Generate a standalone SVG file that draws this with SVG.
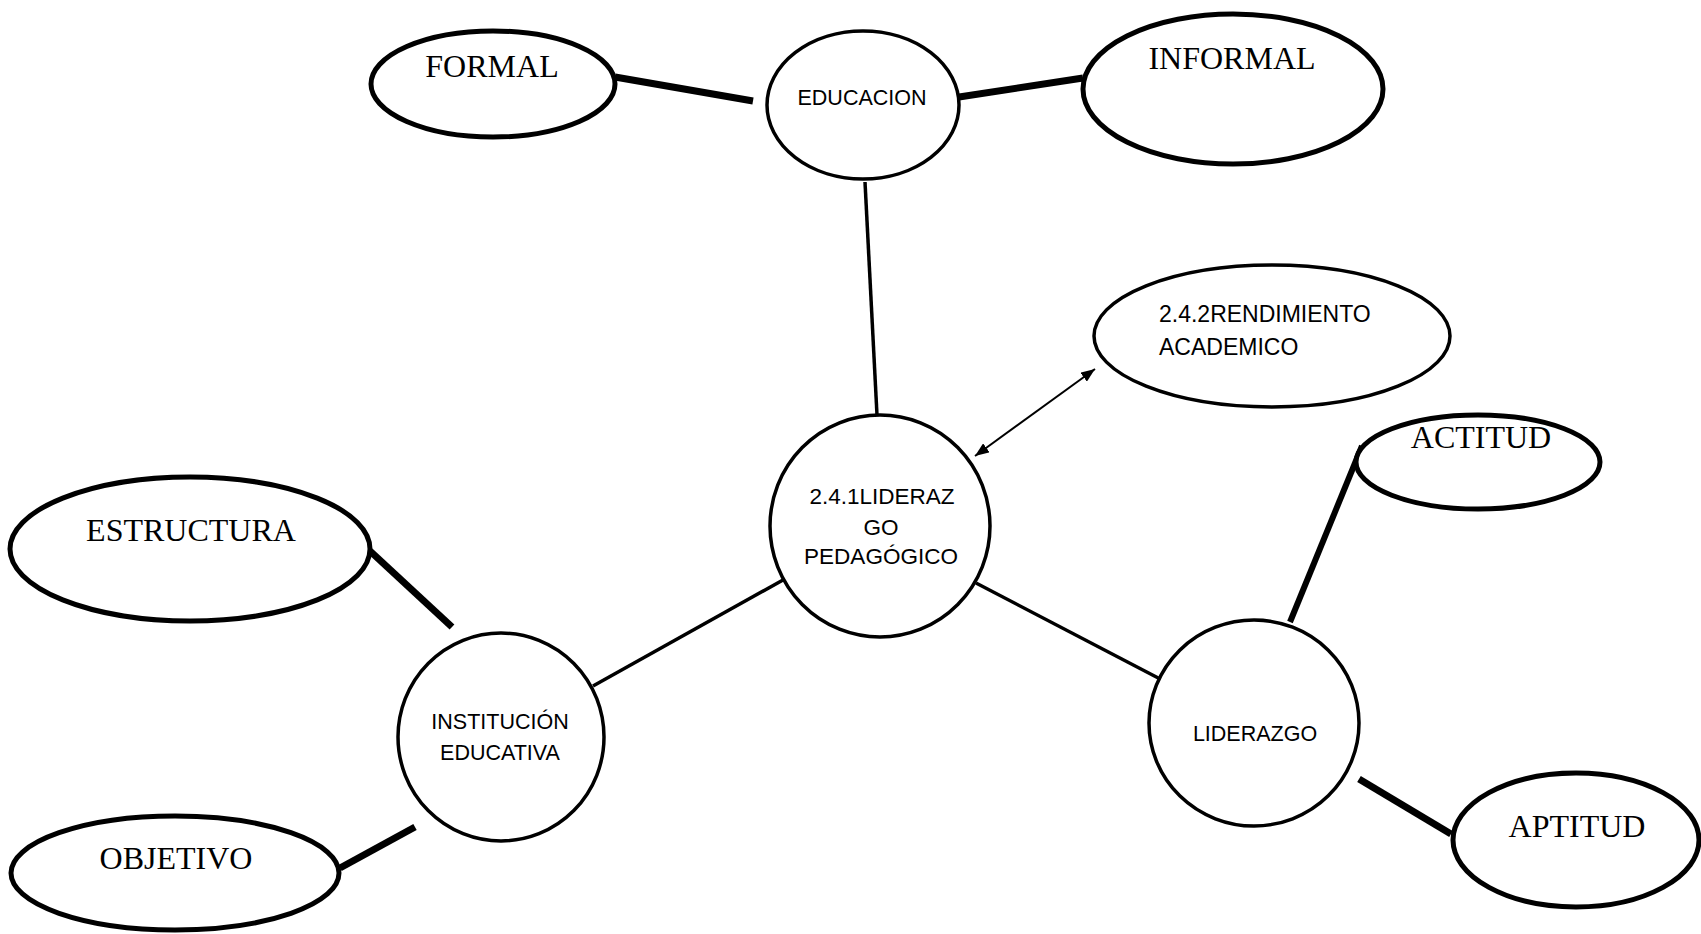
<svg xmlns="http://www.w3.org/2000/svg" width="1701" height="934" viewBox="0 0 1701 934">
  <style>
    .hub { fill: #fff; stroke: #000; stroke-width: 3.5; }
    .leaf { fill: #fff; stroke: #000; stroke-width: 5; }
    .sans { font-family: "Liberation Sans", Arial, sans-serif; font-size: 21.5px; fill: #000; }
    .serif { font-family: "Liberation Serif", "Times New Roman", serif; font-size: 32px; fill: #000; }
    .thin { stroke: #000; stroke-width: 3.5; fill: none; }
    .thick { stroke: #000; stroke-width: 7; fill: none; }
    .arrow { stroke: #000; stroke-width: 2; fill: none; }
  </style>
  <defs>
    <marker id="head" viewBox="0 0 14 11" refX="14" refY="5.5" markerWidth="14" markerHeight="11" markerUnits="userSpaceOnUse" orient="auto-start-reverse">
      <path d="M0,0 L14,5.5 L0,11 Z" fill="#000"/>
    </marker>
  </defs>
  <rect width="1701" height="934" fill="#fff"/>

  <!-- connectors -->
  <g id="connectors">
    <line class="thick" x1="615" y1="77" x2="753" y2="101"/>
    <line class="thick" x1="946" y1="99" x2="1083" y2="78"/>
    <line class="thin" x1="865" y1="182" x2="877" y2="415"/>
    <line class="arrow" x1="975" y1="456" x2="1095" y2="369" marker-start="url(#head)" marker-end="url(#head)"/>
    <line class="thin" x1="783" y1="580" x2="593" y2="686"/>
    <line class="thick" x1="370" y1="551" x2="452" y2="627"/>
    <line class="thick" x1="340" y1="868" x2="415" y2="827"/>
    <line class="thin" x1="976" y1="583" x2="1164" y2="681"/>
    <line class="thick" x1="1362" y1="446" x2="1290" y2="622" style="stroke-width:6"/>
    <line class="thick" x1="1359" y1="779" x2="1451" y2="834"/>
  </g>

  <g id="formal">
    <ellipse class="leaf" cx="493" cy="84" rx="122" ry="53"/>
    <text class="serif" x="492" y="77" text-anchor="middle">FORMAL</text>
  </g>
  <g id="educacion">
    <ellipse class="hub" cx="863" cy="105" rx="96" ry="74"/>
    <text class="sans" x="862" y="105" text-anchor="middle">EDUCACION</text>
  </g>
  <g id="informal">
    <ellipse class="leaf" cx="1233" cy="89" rx="150" ry="75"/>
    <text class="serif" x="1232" y="69" text-anchor="middle">INFORMAL</text>
  </g>
  <g id="rendimiento">
    <ellipse class="hub" cx="1272" cy="336" rx="178" ry="71"/>
    <text class="sans" x="1159" y="322" style="font-size:23px">2.4.2RENDIMIENTO</text>
    <text class="sans" x="1159" y="355" style="font-size:23px">ACADEMICO</text>
  </g>
  <g id="liderazgo-pedagogico">
    <ellipse class="hub" cx="880" cy="526" rx="110" ry="111"/>
    <text class="sans" x="882" y="504" text-anchor="middle" style="font-size:22.5px">2.4.1LIDERAZ</text>
    <text class="sans" x="881" y="535" text-anchor="middle" style="font-size:22.5px">GO</text>
    <text class="sans" x="881" y="564" text-anchor="middle" style="font-size:22.5px">PEDAGÓGICO</text>
  </g>
  <g id="institucion">
    <ellipse class="hub" cx="501" cy="737" rx="103" ry="104"/>
    <text class="sans" x="500" y="729" text-anchor="middle">INSTITUCIÓN</text>
    <text class="sans" x="500" y="760" text-anchor="middle">EDUCATIVA</text>
  </g>
  <g id="estructura">
    <ellipse class="leaf" cx="190" cy="549" rx="180" ry="72"/>
    <text class="serif" x="191" y="541" text-anchor="middle">ESTRUCTURA</text>
  </g>
  <g id="objetivo">
    <ellipse class="leaf" cx="175" cy="873" rx="164" ry="57"/>
    <text class="serif" x="176" y="869" text-anchor="middle">OBJETIVO</text>
  </g>
  <g id="liderazgo">
    <ellipse class="hub" cx="1254" cy="723" rx="105" ry="103"/>
    <text class="sans" x="1255" y="741" text-anchor="middle">LIDERAZGO</text>
  </g>
  <g id="actitud">
    <ellipse class="leaf" cx="1478" cy="462" rx="122" ry="47"/>
    <text class="serif" x="1481" y="448" text-anchor="middle">ACTITUD</text>
  </g>
  <g id="aptitud">
    <ellipse class="leaf" cx="1576" cy="840" rx="123" ry="67"/>
    <text class="serif" x="1577" y="837" text-anchor="middle">APTITUD</text>
  </g>
</svg>
